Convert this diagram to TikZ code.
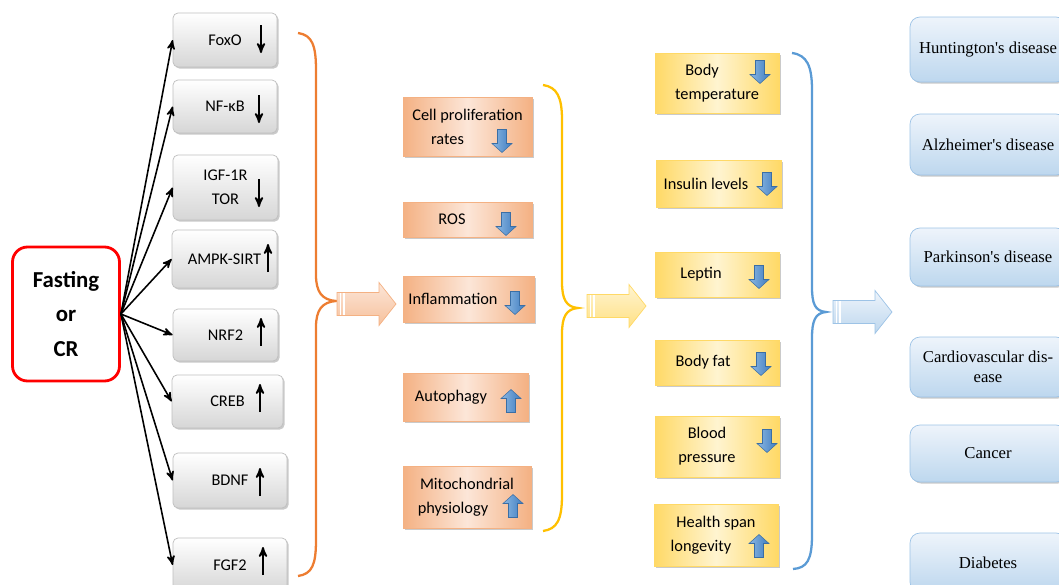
\documentclass[tikz,border=0pt]{standalone}
\usepackage{fontspec}
\setmainfont{Carlito}
\newfontfamily\tnr{Liberation Serif}
\usepackage{tikz}
\usetikzlibrary{arrows, shadows}
\definecolor{grayD}{HTML}{BFBFBF}
\definecolor{grayL}{HTML}{D6D6D6}
\definecolor{orgD}{HTML}{ED7D31}
\definecolor{salD}{HTML}{F4B183}
\definecolor{salL}{HTML}{FCE6D8}
\definecolor{ylwD}{HTML}{FFC000}
\definecolor{ylwM}{HTML}{FFD966}
\definecolor{ylwL}{HTML}{FFF4D0}
\definecolor{bluD}{HTML}{5B9BD5}
\definecolor{bluM}{HTML}{BDD7EE}
\definecolor{bluL}{HTML}{EEF4FB}
\definecolor{bluB}{HTML}{9DC3E6}
\definecolor{arrL}{HTML}{8DB8E2}
\definecolor{arrD}{HTML}{3E7CC0}
\definecolor{arrE}{HTML}{3A6EA5}
\tikzset{
>=stealth',
every node/.style={font=\fontsize{9.3}{13.6}\selectfont},
sz/.style 2 args={minimum width=#1*0.02cm, minimum height=#2*0.02cm},
shad/.style={drop shadow={shadow xshift=0.9pt, shadow yshift=-0.9pt, opacity=0.35, fill=black!60}},
fastbox/.style={%
    rectangle,
    rounded corners=3mm,
    draw=red, line width=1.6pt,
    align=center, inner sep=0pt,
    font=\bfseries\fontsize{13}{19.8}\selectfont
},
gbox/.style={%
    rectangle,
    rounded corners=1mm,
    draw=grayD, top color=white, bottom color=grayL,
    shad, align=center, inner sep=0pt
},
sbox/.style={%
    rectangle,
    draw=salD, left color=salD, right color=salD, middle color=salL,
    shad, align=center, inner sep=0pt
},
ybox/.style={%
    rectangle,
    draw=ylwM, left color=ylwM, right color=ylwM, middle color=ylwL,
    shad, align=center, inner sep=0pt
},
dbox/.style={%
    rectangle,
    rounded corners=2mm,
    draw=bluB, top color=bluL, bottom color=bluM,
    shad, align=center, inner sep=0pt,
    font=\tnr\fontsize{9.5}{11.3}\selectfont
},
link/.style={->, line width=0.9pt},
brace/.style={line width=1.3pt, rounded corners=0pt},
oarr/.style={draw=salD, top color=salL, bottom color=salD!80},
yarr/.style={draw=ylwM, top color=ylwL, bottom color=ylwM!80},
barr/.style={draw=bluB, top color=bluL, bottom color=bluM},
bigarr/.pic={
    \path[#1] (0,-11.5) -- (42,-11.5) -- (42,-21.5) -- (59,0) -- (42,21.5) -- (42,11.5) -- (0,11.5) -- cycle;
    \draw[white, line width=0.8pt] (3.5,-11) -- (3.5,11) (7,-11) -- (7,11);
},
arrdn/.pic={
    \path[left color=arrL, right color=arrD, draw=arrE, line width=0.3pt]
        (-4.5,-11.5) -- (4.5,-11.5) -- (4.5,2.5) -- (10,2.5) -- (0,11.5) -- (-10,2.5) -- (-4.5,2.5) -- cycle;
},
arrup/.pic={\pic[rotate=180] {arrdn};},
lndn/.pic={\draw[->, line width=1pt] (0,-14) -- (0,14);},
lnup/.pic={\draw[->, line width=1pt] (0,14) -- (0,-14);},
}

\begin{document}
\begin{tikzpicture}[x=0.02cm, y=-0.02cm]
	\useasboundingbox (0,0) rectangle (1059,585);
	\clip (0,0) rectangle (1059,585);

	% fasting
	\node[fastbox, sz={107}{134}] at (66,314) (fast) {Fasting\\or\\CR};

	% signalling
	\node[gbox, sz={104}{54}] at (225,40) (foxo) {FoxO};
	\node[gbox, sz={104}{53}] at (225,106.5) (nfkb) {NF-κB};
	\node[gbox, sz={105}{65}] at (225.5,187.5) (igf) {IGF-1R\\TOR};
	\node[gbox, sz={105}{58}] at (224.5,259) (ampk) {AMPK-SIRT};
	\node[gbox, sz={105}{52}] at (225.5,335) (nrf) {NRF2};
	\node[gbox, sz={111}{53}] at (227.5,401.5) (creb) {CREB};
	\node[gbox, sz={114}{55}] at (230,480.5) (bdnf) {BDNF};
	\node[gbox, sz={114}{54}] at (230,565) (fgf) {FGF2};
	\pic at (261,39) {lndn};
	\pic at (259,109) {lndn};
	\pic at (259,193) {lndn};
	\pic at (268,258) {lnup};
	\pic at (261,332) {lnup};
	\pic at (260,398) {lnup};
	\pic at (260,482) {lnup};
	\pic at (263,561) {lnup};

	\foreach \n in {foxo,nfkb,igf,ampk,nrf,creb,bdnf,fgf}
		\draw[link] (fast.east) -- (\n.west);

	\draw[brace, orgD] (298,33) .. controls (312,35) and (316,45) .. (316,70) -- (316,275)
		.. controls (316,292) and (322,300) .. (336,301) .. controls (322,302) and (316,310) .. (316,327)
		-- (316,540) .. controls (316,565) and (312,574) .. (298,576);
	\pic at (337,304) {bigarr=oarr};

	% cellular
	\node[sbox, sz={129}{59}] at (467.5,126.5) (cell) {Cell proliferation\\rates\hspace*{0.8cm}};
	\node[sbox, sz={129}{35}] at (467.5,219.5) (ros) {ROS\hspace*{0.62cm}};
	\node[sbox, sz={131}{46}] at (468.5,299) (infl) {Inflammation\hspace*{0.62cm}};
	\node[sbox, sz={125}{48}] at (465.5,397) (auto) {Autophagy\hspace*{0.58cm}};
	\node[sbox, sz={128}{62}] at (467,497) (mito) {Mitochondrial\\physiology\hspace*{0.56cm}};
	\pic at (502,141) {arrdn};
	\pic at (506,224) {arrdn};
	\pic at (515,303) {arrdn};
	\pic at (511,401) {arrup};
	\pic at (513,506) {arrup};

	\draw[brace, ylwD] (543,85) .. controls (557,87) and (562,97) .. (562,120) -- (562,282)
		.. controls (562,299) and (566,307) .. (578,308) .. controls (566,309) and (562,317) .. (562,334)
		-- (562,495) .. controls (562,520) and (557,529) .. (543,531);
	\pic at (587,306) {bigarr=yarr};

	% physiological
	\node[ybox, sz={124}{60}] at (717,83) (btemp) {Body\hspace*{0.6cm}\\temperature};
	\node[ybox, sz={125}{47}] at (718.5,183.5) (insul) {Insulin levels\hspace*{0.5cm}};
	\node[ybox, sz={124}{45}] at (717,274.5) (lept) {Leptin\hspace*{0.64cm}};
	\node[ybox, sz={124}{45}] at (717,362.5) (bfat) {Body fat\hspace*{0.56cm}};
	\node[ybox, sz={124}{61}] at (717,446.5) (bpres) {Blood\hspace*{0.4cm}\\pressure\hspace*{0.4cm}};
	\node[ybox, sz={124}{62}] at (716,535) (hspan) {Health span\\longevity\hspace*{0.6cm}};
	\pic at (760,72) {arrdn};
	\pic at (767,184) {arrdn};
	\pic at (759,277) {arrdn};
	\pic at (761,364) {arrdn};
	\pic at (767,441) {arrdn};
	\pic at (759,546) {arrup};

	\draw[brace, bluD] (792,53) .. controls (807,55) and (812,66) .. (812,90) -- (812,287)
		.. controls (812,304) and (815,311) .. (826,312) .. controls (815,313) and (812,321) .. (812,338)
		-- (812,535) .. controls (812,560) and (807,568) .. (793,569);
	\pic at (833,312) {bigarr=barr};

	% diseases
	\node[dbox, sz={156}{65}] at (988,49.5) (hunt) {Huntington's disease};
	\node[dbox, sz={156}{61}] at (988,144.5) (alz) {Alzheimer's disease};
	\node[dbox, sz={156}{58}] at (988,257) (park) {Parkinson's disease};
	\node[dbox, sz={156}{60}] at (988,367) (cardio) {Cardiovascular dis-\\ease};
	\node[dbox, sz={156}{57}] at (988,453.5) (canc) {Cancer};
	\node[dbox, sz={156}{59}] at (988,562.5) (diab) {Diabetes};

\end{tikzpicture}
\end{document}
